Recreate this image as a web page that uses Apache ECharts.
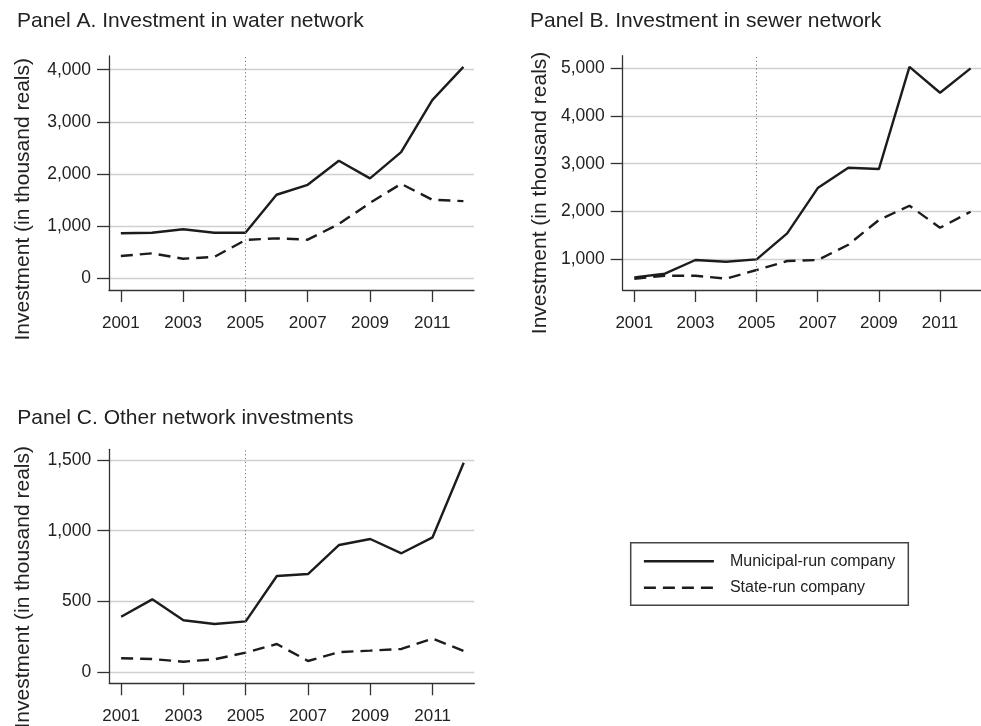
<!DOCTYPE html>
<html>
<head>
<meta charset="utf-8">
<title>Network investment by company type</title>
<script src="https://cdn.jsdelivr.net/npm/echarts@6/dist/echarts.min.js"></script>
<style>
  html, body { margin: 0; padding: 0; background: #fff; }
  #chart { width: 981px; height: 726px; }
</style>
</head>
<body>
<div id="chart"></div>
<script>
// Years on the horizontal axis and the labelled ticks
const years = [2001, 2002, 2003, 2004, 2005, 2006, 2007, 2008, 2009, 2010, 2011, 2012];
const yearTicks = [2001, 2003, 2005, 2007, 2009, 2011];

// Investment in thousand reals, by panel and company type
const waterMunicipal = [868, 880, 945, 880, 880, 1606, 1797, 2256, 1920, 2423, 3417, 4054];
const waterState     = [434, 485, 382, 415, 740, 772, 746, 1045, 1450, 1815, 1510, 1485];
const sewerMunicipal = [616, 692, 979, 943, 993, 1538, 2488, 2915, 2887, 5031, 4487, 4998];
const sewerState     = [587, 650, 650, 587, 769, 958, 979, 1300, 1818, 2118, 1656, 1992];
const otherMunicipal = [391, 514, 366, 340, 358, 679, 693, 899, 941, 840, 953, 1481];
const otherState     = [97, 92, 73, 90, 137, 198, 78, 141, 151, 163, 236, 149];

// Value-axis tick labels for each panel
const waterTicks = [0, 1000, 2000, 3000, 4000];
const sewerTicks = [1000, 2000, 3000, 4000, 5000];
const otherTicks = [0, 500, 1000, 1500];

const reformYear = 2005;
const MUNI = 'Municipal-run company';
const STATE = 'State-run company';
const Y_TITLE = 'Investment (in thousand reals)';

const FONT = '"Liberation Sans", Arial, Helvetica, sans-serif';
const INK = '#222';
const AXIS = '#333';
const LINE = '#1c1c1c';

const xMin = 2000.62, xMax = 2012.34;

const panels = [
  { title: 'Panel A. Investment in water network',
    grid: { left: 109, top: 56, width: 365, height: 234 },
    yMin: -217, yMax: 4262, yTicks: waterTicks,
    municipal: waterMunicipal, state: waterState,
    titleAt: [17, 21.7], yTitleAt: [23.5, 58] },
  { title: 'Panel B. Investment in sewer network',
    grid: { left: 622.7, top: 55.7, width: 365, height: 234.3 },
    yMin: 350, yMax: 5265, yTicks: sewerTicks,
    municipal: sewerMunicipal, state: sewerState,
    titleAt: [530, 21.7], yTitleAt: [540, 51.7] },
  { title: 'Panel C. Other network investments',
    grid: { left: 109.3, top: 449.3, width: 365, height: 234 },
    yMin: -80, yMax: 1576, yTicks: otherTicks,
    municipal: otherMunicipal, state: otherState,
    titleAt: [17.3, 418.3], yTitleAt: [23.5, 446] }
];

const pairs = vals => years.map((y, i) => [y, vals[i]]);

const series = [];
panels.forEach((p, i) => {
  series.push({
    name: MUNI, type: 'line', xAxisIndex: i, yAxisIndex: i,
    data: pairs(p.municipal), symbol: 'none',
    lineStyle: { color: LINE, width: 2.4, type: 'solid' },
    itemStyle: { color: LINE },
    markLine: {
      silent: true, symbol: 'none', animation: false,
      label: { show: false },
      lineStyle: { color: '#7a7a7a', width: 1, type: [1.2, 2.6] },
      data: [{ xAxis: reformYear }]
    }
  });
  series.push({
    name: STATE, type: 'line', xAxisIndex: i, yAxisIndex: i,
    data: pairs(p.state), symbol: 'none',
    lineStyle: { color: LINE, width: 2.4, type: [12, 7] },
    itemStyle: { color: LINE }
  });
});

const graphics = [];
panels.forEach(p => {
  graphics.push({
    type: 'text', x: p.titleAt[0], y: p.titleAt[1],
    style: { text: p.title, fill: INK, font: '21px ' + FONT,
             textAlign: 'left', textVerticalAlign: 'middle' }
  });
  graphics.push({
    type: 'text', x: p.yTitleAt[0], y: p.yTitleAt[1], rotation: Math.PI / 2,
    style: { text: Y_TITLE, fill: INK, font: '21px ' + FONT,
             textAlign: 'right', textVerticalAlign: 'middle' }
  });
});

const option = {
  animation: false,
  backgroundColor: '#fff',
  textStyle: { fontFamily: FONT },
  legend: {
    orient: 'vertical', left: 630.7, top: 542.7,
    data: [MUNI, STATE],
    itemWidth: 70, itemHeight: 14, itemGap: 10.5,
    padding: [10.5, 13, 9.5, 12],
    borderColor: '#444', borderWidth: 1.5,
    selectedMode: false,
    lineStyle: { width: 2.4 },
    // line-only keys: hide the marker that is drawn on the key line
    itemStyle: { opacity: 0, color: 'rgba(0,0,0,0)', borderWidth: 0 },
    textStyle: { fontSize: 16, color: INK, fontFamily: FONT, padding: [0, 0, 0, 11] }
  },
  grid: panels.map(p => p.grid),
  xAxis: panels.map((p, i) => ({
    type: 'value', gridIndex: i, min: xMin, max: xMax,
    axisLine: { show: true, onZero: false, lineStyle: { color: AXIS, width: 1.3 } },
    axisTick: { show: true, length: 12, customValues: yearTicks,
                lineStyle: { color: AXIS, width: 1.3 } },
    axisLabel: { customValues: yearTicks, margin: 25, fontSize: 17,
                 color: INK, fontFamily: FONT, formatter: v => String(v) },
    splitLine: { show: false }
  })),
  yAxis: panels.map((p, i) => ({
    type: 'value', gridIndex: i, min: p.yMin, max: p.yMax,
    axisLine: { show: true, onZero: false, lineStyle: { color: AXIS, width: 1.3 } },
    axisTick: { show: true, length: 12, customValues: p.yTicks,
                lineStyle: { color: AXIS, width: 1.3 } },
    axisLabel: { customValues: p.yTicks, margin: 18, fontSize: 17.5,
                 color: INK, fontFamily: FONT,
                 formatter: v => Number(v).toLocaleString('en-US') },
    splitLine: { show: true, lineStyle: { color: '#d0d0d0', width: 1.3 } }
  })),
  graphic: graphics,
  series: series
};

const chart = echarts.init(document.getElementById('chart'), null, { renderer: 'canvas' });
chart.setOption(option);
</script>
</body>
</html>
